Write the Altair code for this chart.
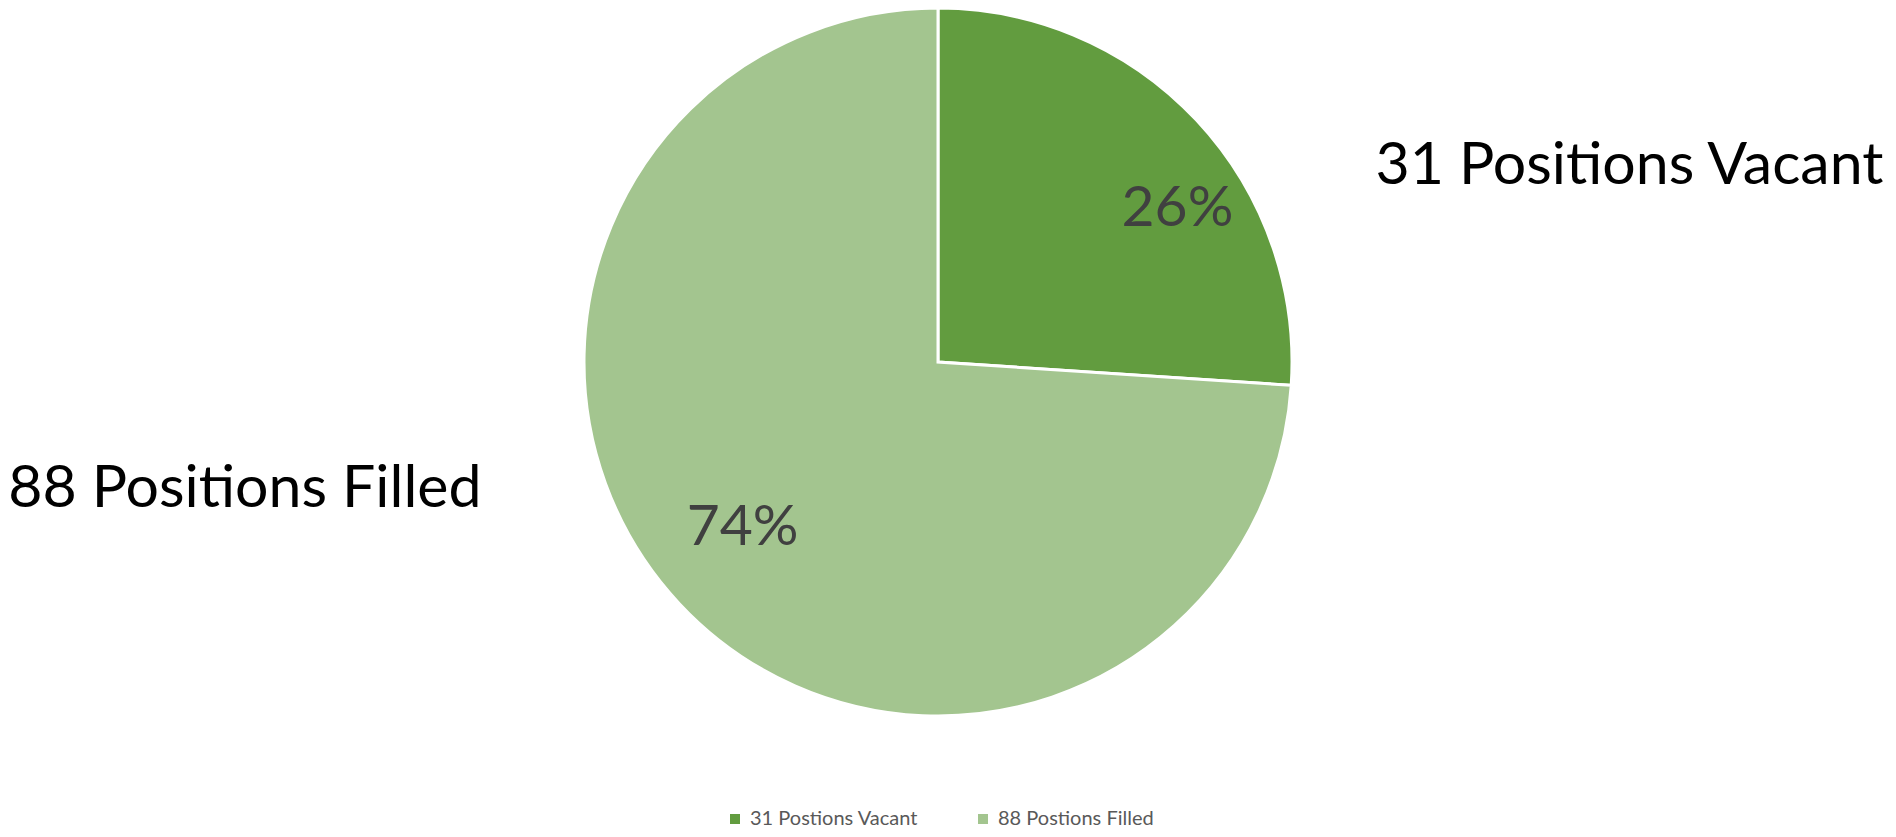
import altair as alt
import pandas as pd

legend_names = ["31 Postions Vacant", "88 Postions Filled"]
slice_labels = ["31 Positions Vacant", "88 Positions Filled"]
values = [31, 88]
order = [0, 1]
colors = ["#629C3F", "#A3C58F"]

total = sum(values)
df = pd.DataFrame({
    "name": legend_names,
    "label": slice_labels,
    "value": values,
    "order": order,
    "pct": [f"{round(v / total * 100)}%" for v in values],
})

R = 354
FONT = "Lato"
theta_scale = alt.Scale(domain=[0, total])

pie = alt.Chart(df).mark_arc(outerRadius=R, stroke="white", strokeWidth=3).encode(
    theta=alt.Theta("value:Q", stack=True, scale=theta_scale),
    order=alt.Order("order:Q"),
    color=alt.Color(
        "name:N",
        sort=legend_names,
        scale=alt.Scale(domain=legend_names, range=colors),
        legend=alt.Legend(
            title=None,
            orient="none",
            legendX=717,
            legendY=801,
            direction="horizontal",
            symbolType="square",
            symbolSize=100,
            symbolStrokeWidth=0,
            labelFont=FONT,
            labelFontSize=20,
            labelColor="#595959",
            columnPadding=54,
            labelOffset=5,
            labelLimit=400,
        ),
    ),
)

# mid-angle of each slice computed before filtering
text_base = (
    alt.Chart(df)
    .transform_window(cum="sum(value)", sort=[alt.SortField("order")])
    .transform_calculate(mid="datum.cum - datum.value / 2")
    .encode(theta=alt.Theta("mid:Q", stack=None, scale=theta_scale))
)


def label(field, idx, size, color, align, dx, dy):
    return (
        text_base.mark_text(
            radius=R, font=FONT, fontSize=size, color=color, align=align, dx=dx, dy=dy
        )
        .encode(text=f"{field}:N")
        .transform_filter(alt.datum.order == idx)
    )


pct_vacant = label("pct", 0, 57, "#404040", "center", -19, 89)
pct_filled = label("pct", 1, 57, "#404040", "center", 63, -76)
lab_vacant = label("label", 0, 59, "#000000", "left", 179, 46)
lab_filled = label("label", 1, 59, "#000000", "right", -198, -115)

chart = (
    alt.layer(pie, pct_vacant, pct_filled, lab_vacant, lab_filled)
    .properties(
        width=1860,
        height=708,
        padding={"left": 0, "top": 0, "right": 20, "bottom": 113},
        autosize=alt.AutoSizeParams(type="none"),
    )
    .configure_view(stroke=None)
)

chart.save("out.html", embed_options={"renderer": "svg", "actions": False})
